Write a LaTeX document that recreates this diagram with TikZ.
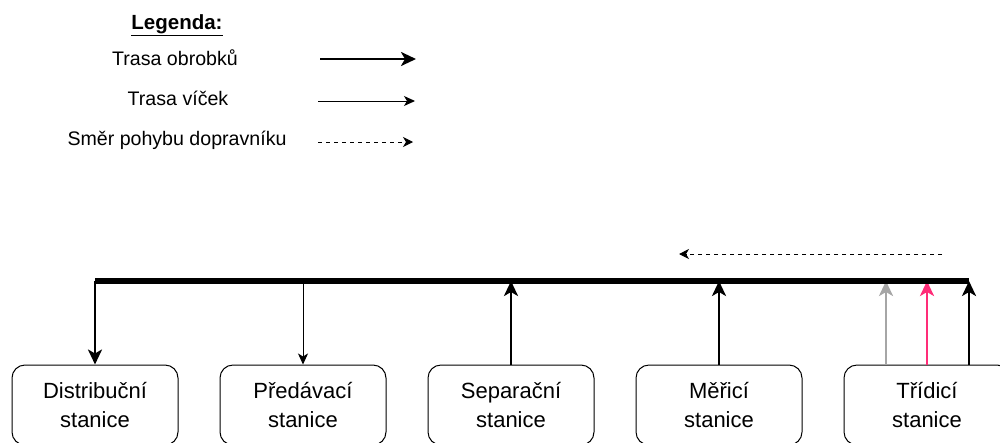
\documentclass[tikz,border=0pt]{standalone}
\usepackage{fontspec}
\setmainfont{Liberation Sans}
\usetikzlibrary{arrows.meta}
\definecolor{sortgray}{HTML}{A6A6A6}
\definecolor{sortpink}{HTML}{FF2D78}
\begin{document}
\begin{tikzpicture}[x=1pt,y=-1pt,
  station/.style={draw=black, line width=1pt, rounded corners=13pt,
    minimum width=166pt, minimum height=80pt, inner sep=0pt,
    align=center, font=\fontsize{22}{28.5}\selectfont},
  legtext/.style={inner sep=0pt, font=\fontsize{19.6}{23}\selectfont},
  heavy/.style={line width=2.6pt, -{Stealth[length=15pt,width=14pt,inset=4pt]}},
  light/.style={line width=1pt, -{Stealth[length=11pt,width=10pt,inset=3pt]}},
  flow/.style={line width=1pt, dash pattern=on 4pt off 4pt,
    -{Stealth[length=10pt,width=10pt,inset=3pt]}},
  bus/.style={line width=5.5pt}]
\useasboundingbox (0,0) rectangle (1000,442);
\clip (0,0) rectangle (1000,442);

% legend
\node[legtext, font=\fontsize{20.5}{23}\selectfont\bfseries] (legtitle) at (177,25) {\underline{Legenda:}};
\node[legtext] (legA) at (175,58) {Trasa obrobků};
\node[legtext] (legB) at (178,98) {Trasa víček};
\node[legtext] (legC) at (177,140) {Směr pohybu dopravníku};
\coordinate (legAs) at (320,59);  \coordinate (legAe) at (416,59);
\coordinate (legBs) at (318,101); \coordinate (legBe) at (415,101);
\coordinate (legCs) at (318,142); \coordinate (legCe) at (413,142);
\draw[heavy] (legAs) -- (legAe);
\draw[light] (legBs) -- (legBe);
\draw[flow] (legCs) -- (legCe);

% conveyor direction
\coordinate (dirS) at (942,254);
\coordinate (dirE) at (679,254);
\draw[flow] (dirS) -- (dirE);

% stations
\node[station] (dist) at (95,405)  {Distribuční\\stanice};
\node[station] (pred) at (303,405) {Předávací\\stanice};
\node[station] (sep)  at (511,405) {Separační\\stanice};
\node[station] (mer)  at (719,405) {Měřicí\\stanice};
\node[station] (tri)  at (927,405) {Třídicí\\stanice};

% conveyor bus
\coordinate (busL) at (95,281);
\coordinate (busR) at (969,281);

% connectors
\draw[heavy] (busL) -- (dist.north);
\draw[light] (pred.north |- busL) -- (pred.north);
\draw[heavy] (sep.north) -- (sep.north |- busL);
\draw[heavy] (mer.north) -- (mer.north |- busL);
\coordinate (triG) at ([xshift=-41pt]tri.north);
\coordinate (triK) at ([xshift=42pt]tri.north);
\draw[heavy, draw=sortgray, fill=sortgray] (triG) -- (triG |- busL);
\draw[heavy, draw=sortpink, fill=sortpink] (tri.north) -- (tri.north |- busL);
\draw[heavy] (triK) -- (busR);
\draw[bus] (busL) -- (busR);
\end{tikzpicture}
\end{document}
